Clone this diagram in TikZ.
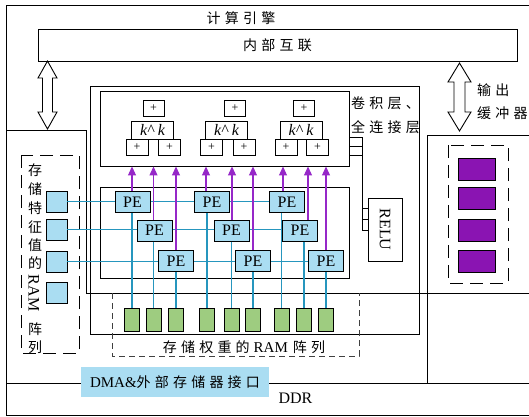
\documentclass[tikz,border=0pt]{standalone}
\usepackage{fontspec}
\setmainfont{Liberation Serif}
\newfontfamily\cjk[LetterSpace=30]{Noto Sans CJK SC}
\usetikzlibrary{arrows.meta}
\definecolor{peblue}{RGB}{170,221,242}
\definecolor{wireblue}{RGB}{38,150,190}
\definecolor{feedpurple}{RGB}{150,40,200}
\definecolor{bufpurple}{RGB}{138,20,178}
\definecolor{wgreen}{RGB}{158,204,128}
\definecolor{dashgray}{RGB}{64,64,64}
\newcommand{\zh}[1]{{\cjk\fontsize{14}{17}\selectfont #1}}

\begin{document}
\begin{tikzpicture}[x=1pt,y=1pt,yscale=-1,xscale=1,
  wall/.style={line width=0.9pt},
  cell/.style={draw,line width=0.9pt,inner sep=0pt},
  addbox/.style={cell,minimum width=21pt,minimum height=16pt,font=\fontsize{12}{12}\selectfont},
  mulbox/.style={cell,minimum width=42pt,minimum height=18pt,font=\fontsize{16}{16}\selectfont\itshape},
  pebox/.style={cell,fill=peblue,line width=1pt,minimum width=35pt,minimum height=21pt,font=\fontsize{16}{16}\selectfont},
  fram/.style={cell,fill=peblue,minimum width=21pt,minimum height=21pt},
  wram/.style={cell,fill=wgreen,minimum width=15pt,minimum height=23pt},
  obuf/.style={cell,fill=bufpurple,minimum width=37pt,minimum height=22pt},
  wire/.style={wireblue,line width=1.3pt},
  feed/.style={feedpurple,line width=1.1pt,-{Triangle[width=8pt,length=9pt]}},
  longdash/.style={line width=1pt,dash pattern=on 13pt off 7pt},
  shortdash/.style={dashgray,line width=1pt,dash pattern=on 6pt off 4pt},
  hollow/.style={line width=0.9pt,fill=white}
]
\useasboundingbox (0,0) rectangle (529,416);

%Outer frame: engine
\draw [wall] (529,5) -- (6,5) -- (6,415) -- (529,415) ;
%Straight Lines: DDR border
\draw [wall] (6,383) -- (529,383) ;
%Feature region border
\draw [wall] (6,130) -- (86,130) -- (86,293) -- (529,293) ;
%Output region border
\draw [wall] (529,135) -- (427,135) -- (427,383) ;
%Compute block
\draw [wall] (90,86) rectangle (419,334) ;

% Text Node
\node (engine) at (241,18) {\zh{计算引擎}};
% Interconnect
\node [cell,minimum width=479pt,minimum height=32pt] (bus) at (277.5,45) {\zh{内部互联}};

%Double arrows
\draw [hollow] (47.5,61) -- (57,78) -- (52.5,78) -- (52.5,112) -- (57,112) -- (47.5,129) -- (38,112) -- (42.5,112) -- (42.5,78) -- (38,78) -- cycle ;
\draw [hollow] (459.5,63) -- (471,82) -- (465,82) -- (465,112) -- (471,112) -- (459.5,131) -- (448,112) -- (454,112) -- (454,82) -- (448,82) -- cycle ;
% Text Node
\node [anchor=west,inner sep=0pt] (obtxt1) at (477,90) {\zh{输出}};
\node [anchor=west,inner sep=0pt] (obtxt2) at (477,113) {\zh{缓冲器}};

%Adder trees
\node [cell,minimum width=249pt,minimum height=75pt] (tree) at (224.5,128.5) {};
\foreach \g/\tx/\kx/\lx/\rx in {1/153.5/152.5/137/169.5, 2/235/226.5/211.5/244, 3/304/301/286/317.5}{
  \node [addbox] (top\g) at (\tx,108) {+};
  \node [mulbox] (mul\g) at (\kx,130) {k\textasciicircum\ k};
  \node [addbox,minimum width=22pt] (addl\g) at (\lx,147) {+};
  \node [addbox,minimum width=22pt] (addr\g) at (\rx,147) {+};
}
% Text Node
\node [anchor=west,inner sep=0pt] (convtxt1) at (351,103) {\zh{卷积层、}};
\node [anchor=west,inner sep=0pt] (convtxt2) at (351,127) {\zh{全连接层}};

%RELU
\node [cell,minimum width=34pt,minimum height=63pt] (relu) at (385,229.5) {\rotatebox{-90}{\fontsize{16}{16}\selectfont RELU}};
\coordinate (tap) at (362,137);
\foreach \y in {137,146,155} \draw [wall] (tree.east |- 0,\y) -- (tap |- 0,\y);
\draw [wall] (tap) -- (tap |- 0,230);
\foreach \y in {208,219,230} \draw [wall] (tap |- 0,\y) -- (relu.west |- 0,\y);

%PE array
\node [cell,minimum width=249pt,minimum height=91pt] (array) at (224.5,232.5) {};
\foreach \r/\y/\xa/\xb/\xc in {1/202/132.5/212/287, 2/230.5/154.5/231.5/300, 3/261/176/253/326}{
  \node [pebox] (pe\r1) at (\xa,\y) {PE};
  \node [pebox] (pe\r2) at (\xb,\y) {PE};
  \node [pebox] (pe\r3) at (\xc,\y) {PE};
}

%Feature RAM
\draw [longdash] (21,155) rectangle (79,353) ;
\foreach \i/\y in {1/201.5,2/229.5,3/261.5,4/292.5}
  \node [fram] (f\i) at (56.5,\y) {};
\foreach \ch/\y [count=\i] in {存/170,储/189,特/208,征/227,值/245,的/263,阵/329,列/347}
  \node [inner sep=0pt] (fch\i) at (35,\y) {\zh{\ch}};
\node [inner sep=0pt] (ramtxt) at (34,293) {\rotatebox{-90}{\fontsize{16}{16}\selectfont RAM}};
% row wires
\foreach \i in {1,2,3}{
  \draw [wire] (f\i.east) -- (f\i.east -| pe\i1.west);
  \draw [wire] (pe\i1.east |- f\i.east) -- (f\i.east -| pe\i2.west);
  \draw [wire] (pe\i2.east |- f\i.east) -- (f\i.east -| pe\i3.west);
}

%Weight RAM
\draw [shortdash] (112,293) -- (112,356) -- (359,356) -- (359,293) ;
\foreach \c/\pe/\wx/\ax in {1/pe11/132/132, 2/pe21/153.5/153.5, 3/pe31/176/176, 4/pe12/207/206, 5/pe22/231.5/232, 6/pe32/253/253, 7/pe13/281.5/283, 8/pe23/304/308, 9/pe33/326/326}{
  \node [wram] (w\c) at (\wx,319.5) {};
  \draw [wire] (\pe.south -| w\c) -- (w\c.north);
  \draw [feed] (\pe.north -| \ax,0) -- (tree.south -| \ax,0);
}
\node (wlabel) at (244,347) {\zh{存储权重的}\hspace{4pt}{\fontsize{15}{17}\selectfont RAM}\hspace{5pt}\zh{阵列}};

%Output buffer
\draw [longdash] (448,145) rectangle (508,283) ;
\foreach \i/\y in {1/169.5,2/198,3/230,4/261.5}
  \node [obuf] (ob\i) at (476.5,\y) {};

%DMA and DDR
\node [cell,draw=none,fill=peblue,minimum width=188pt,minimum height=30pt] (dma) at (175,382) {{\fontsize{15}{17}\selectfont DMA\&}\zh{外部存储器接口}};
\node (ddr) at (295.5,398) {\fontsize{16}{17}\selectfont DDR};
\end{tikzpicture}
\end{document}
